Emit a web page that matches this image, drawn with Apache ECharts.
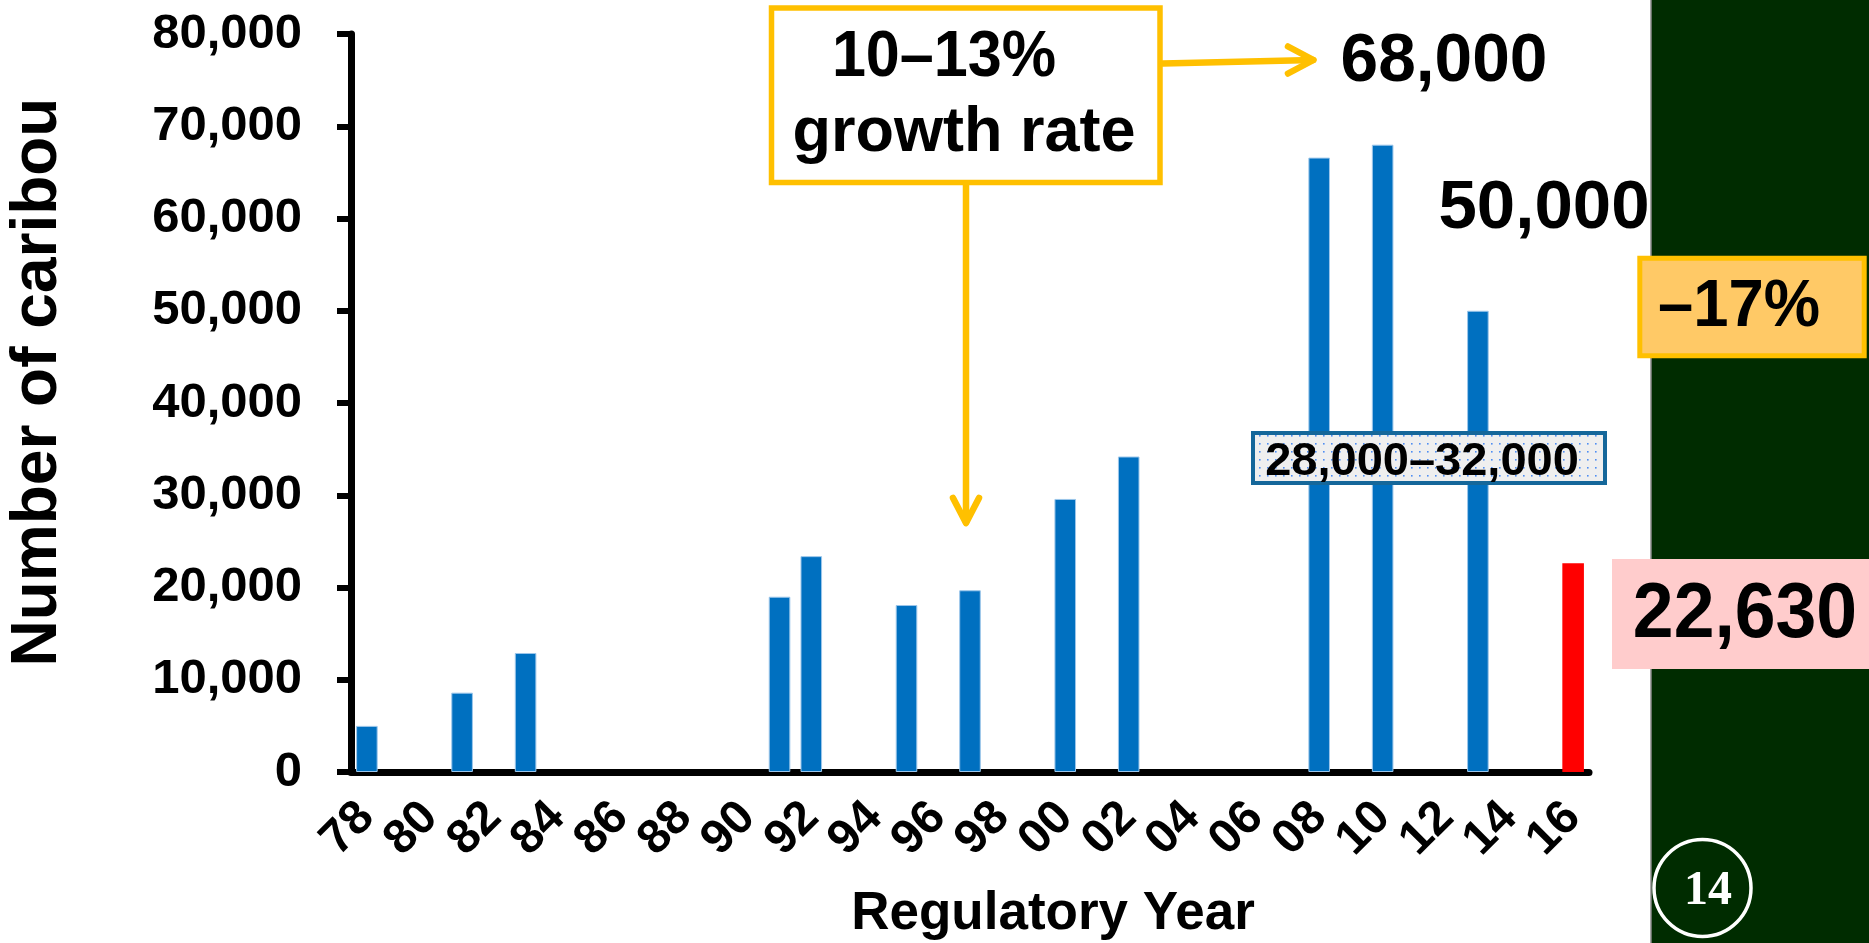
<!DOCTYPE html>
<html>
<head>
<meta charset="utf-8">
<script src="https://cdn.jsdelivr.net/npm/echarts@6/dist/echarts.min.js"></script>
<style>
  html, body { margin: 0; padding: 0; background: #ffffff; }
  #chart { width: 1869px; height: 943px; }
</style>
</head>
<body>
<div id="chart"></div>
<script>
// Regulatory years on the category axis (two-digit labels, 1978–2016)
const yearLabels = ['78','79','80','81','82','83','84','85','86','87','88','89','90','91','92','93','94','95','96','97','98','99',
                    '00','01','02','03','04','05','06','07','08','09','10','11','12','13','14','15','16'];

// Years with a population estimate, and the estimated number of caribou
const surveyYears   = ['78','81','83','91','92','95','97','00','02','08','10','13','16'];
const caribouCounts = [5000, 8600, 12900, 19000, 23400, 18100, 19700, 29600, 34200, 66600, 68000, 50000, 22630];

// Value axis ticks
const yTicks = [0, 10000, 20000, 30000, 40000, 50000, 60000, 70000, 80000];

// Most recent estimate, drawn in red
const latestYear = '16';

// Annotation texts
const growthLines = ['10\u201313%', 'growth rate'];
const rangeText   = '28,000\u201332,000';
const changeText  = '\u201317%';
const slideNumber = '14';

const FONT = '"Liberation Sans", Arial, Helvetica, sans-serif';

function fmt(v) {
  return String(v).replace(/\B(?=(\d{3})+(?!\d))/g, ',');
}
function countFor(year) {
  return caribouCounts[surveyYears.indexOf(year)];
}

// One entry per category; years without a survey stay empty
const barData = yearLabels.map(function (y) {
  const i = surveyYears.indexOf(y);
  if (i < 0) return '-';
  if (y === latestYear) {
    return { value: caribouCounts[i], itemStyle: { color: '#FF0000', borderWidth: 0 } };
  }
  return caribouCounts[i];
});

// Light panel with a fine blue dot grid for the range label
function dotPattern() {
  const c = document.createElement('canvas');
  c.width = 8; c.height = 8;
  const g = c.getContext('2d');
  g.fillStyle = '#efefef';
  g.fillRect(0, 0, 8, 8);
  g.fillStyle = '#4f8ef2';
  g.fillRect(3, 3, 1.6, 1.6);
  return c;
}

const ORANGE = '#FFC000';

function bigText(text, x, y, size, extra) {
  return Object.assign({
    type: 'text', x: x, y: y, z: 20,
    style: {
      text: text, fontFamily: FONT, fontWeight: 'bold', fontSize: size,
      fill: '#000', align: 'center', verticalAlign: 'middle'
    }
  }, extra || {});
}

const chart = echarts.init(document.getElementById('chart'), null, { renderer: 'canvas' });

chart.setOption({
  animation: false,
  backgroundColor: '#ffffff',
  grid: { left: 351, top: 34, width: 1238, height: 738, containLabel: false },
  xAxis: {
    type: 'category',
    data: yearLabels,
    boundaryGap: true,
    axisLine: { lineStyle: { color: '#000', width: 7 } },
    axisTick: { interval: 0, length: 13, lineStyle: { color: '#000', width: 6 } },
    axisLabel: {
      // every category gets a label slot; only every other year is written
      interval: 0, rotate: 45, margin: 38, hideOverlap: false,
      formatter: function (value, index) { return index % 2 === 0 ? value : ''; },
      color: '#000', fontFamily: FONT, fontWeight: 'bold', fontSize: 48
    },
    splitLine: { show: false }
  },
  yAxis: {
    type: 'value',
    min: yTicks[0],
    max: yTicks[yTicks.length - 1],
    interval: yTicks[1] - yTicks[0],
    axisLine: { show: true, lineStyle: { color: '#000', width: 7 } },
    axisTick: { show: true, length: 14, lineStyle: { color: '#000', width: 6 } },
    axisLabel: {
      margin: 49, color: '#000', fontFamily: FONT, fontWeight: 'bold', fontSize: 49,
      showMinLabel: true, showMaxLabel: true,
      formatter: function (v) { return fmt(v); }
    },
    splitLine: { show: false }
  },
  series: [{
    type: 'bar',
    data: barData,
    barWidth: '68%',
    itemStyle: { color: '#0070C0', borderColor: '#9cc6ea', borderWidth: 1 }
  }],
  graphic: [
    // Axis titles
    bigText('Number of caribou', 38, 382, 64, { rotation: Math.PI / 2 }),
    bigText('Regulatory Year', 1053, 914, 53),

    // Dark side panel with page number
    { type: 'rect', z: 5, shape: { x: 1651, y: 0, width: 218, height: 943 },
      style: { fill: '#002c00' } },
    { type: 'line', z: 6, shape: { x1: 1651, y1: 0, x2: 1651, y2: 943 },
      style: { stroke: '#8a8a8a', lineWidth: 1.5 } },
    { type: 'circle', z: 6, shape: { cx: 1702.5, cy: 888, r: 48.5 },
      style: { fill: 'none', stroke: '#ffffff', lineWidth: 3.5 } },
    { type: 'text', z: 7, x: 1708, y: 892,
      style: { text: slideNumber, fontFamily: '"Liberation Serif", "Times New Roman", serif',
               fontWeight: 'bold', fontSize: 48, fill: '#ffffff', align: 'center', verticalAlign: 'middle' } },

    // Growth-rate callout with its two arrows
    { type: 'rect', z: 20, shape: { x: 771.5, y: 8, width: 388.5, height: 174.5 },
      style: { fill: '#ffffff', stroke: ORANGE, lineWidth: 5.5 } },
    bigText(growthLines[0], 944, 58, 65, { scaleX: 0.94 }),
    bigText(growthLines[1], 964, 134, 63),
    { type: 'polyline', z: 19, shape: { points: [[1163, 63.5], [1313, 60]] },
      style: { fill: 'none', stroke: ORANGE, lineWidth: 6.5, lineCap: 'round' } },
    { type: 'polyline', z: 19, shape: { points: [[1288, 46.5], [1313.5, 60], [1288, 73.5]] },
      style: { fill: 'none', stroke: ORANGE, lineWidth: 6.5, lineCap: 'round', lineJoin: 'round' } },
    { type: 'polyline', z: 19, shape: { points: [[966, 185], [966, 522]] },
      style: { fill: 'none', stroke: ORANGE, lineWidth: 6.5, lineCap: 'round' } },
    { type: 'polyline', z: 19, shape: { points: [[953, 498], [966, 523], [979, 498]] },
      style: { fill: 'none', stroke: ORANGE, lineWidth: 6.5, lineCap: 'round', lineJoin: 'round' } },

    // Peak and 2013 estimates
    bigText(fmt(countFor('10')), 1444, 62, 69, { scaleX: 0.98 }),
    bigText(fmt(countFor('13')), 1544, 209, 69),

    // Range of the latest estimate
    { type: 'rect', z: 20, shape: { x: 1253, y: 433, width: 352, height: 50 },
      style: { fill: { image: dotPattern(), repeat: 'repeat' }, stroke: '#15679a', lineWidth: 4 } },
    bigText(rangeText, 1422, 462, 47),

    // Percentage change box
    { type: 'rect', z: 20, shape: { x: 1639.8, y: 258.2, width: 224.4, height: 97.6 },
      style: { fill: '#FFC966', stroke: ORANGE, lineWidth: 5 } },
    bigText(changeText, 1739, 308, 66, { scaleX: 0.96 }),

    // Latest count
    { type: 'rect', z: 20, shape: { x: 1612, y: 559, width: 257, height: 110 },
      style: { fill: '#FFCCCC' } },
    bigText(fmt(countFor(latestYear)), 1745, 615, 78, { scaleX: 0.94 })
  ]
});
</script>
</body>
</html>
